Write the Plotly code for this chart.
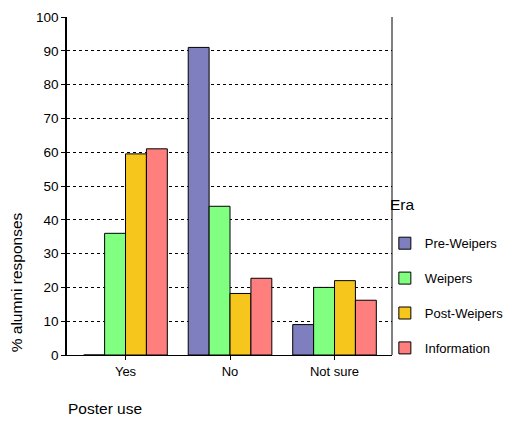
import plotly.graph_objects as go

categories = ["Yes", "No", "Not sure"]
series_names = ["Pre-Weipers", "Weipers", "Post-Weipers", "Information"]
pre_weipers = [0, 91, 9]
weipers = [36, 44, 20]
post_weipers = [59.5, 18.2, 22]
information = [61, 22.7, 16.2]
colors = ["#7f7fbf", "#80ff80", "#f7c61c", "#ff7f7f"]
y_ticks = [0, 10, 20, 30, 40, 50, 60, 70, 80, 90, 100]

fig = go.Figure()
for i, (name, vals) in enumerate(zip(series_names, [pre_weipers, weipers, post_weipers, information])):
    fig.add_trace(go.Bar(
        x=categories, y=vals, name=name,
        marker=dict(color=colors[i], line=dict(color="black", width=1)),
        legendgroup=name,
    ))

font_family = "Liberation Sans, Arial, sans-serif"
fig.update_layout(
    width=509, height=421,
    margin=dict(l=67, r=117, t=17, b=66, autoexpand=False),
    paper_bgcolor="white", plot_bgcolor="white",
    barmode="group", bargap=0.2, bargroupgap=0,
    font=dict(family=font_family, size=13, color="black"),
    showlegend=True,
    legend=dict(
        x=0.978, y=0.375, xanchor="left", yanchor="top",
        font=dict(size=13),
        tracegroupgap=15,
        bgcolor="rgba(0,0,0,0)",
        itemwidth=30,
    ),
    xaxis=dict(
        range=[-0.56, 2.55],
        showline=True, linecolor="black", linewidth=1,
        ticks="outside", ticklen=4, tickcolor="black",
        showgrid=False, mirror=False,
        tickfont=dict(size=13),
    ),
    yaxis=dict(
        range=[0, 100], tickvals=y_ticks,
        showline=True, linecolor="black", linewidth=1.5,
        ticks="outside", ticklen=4, tickcolor="black",
        showgrid=True, gridcolor="black", gridwidth=1, griddash="dot",
        zeroline=False, tickfont=dict(size=13.5),
    ),
    annotations=[
        dict(text="Poster use", xref="paper", yref="paper", x=0.117, y=-0.157,
             xanchor="center", yanchor="middle", showarrow=False, font=dict(size=15.5)),
        dict(text="% alumni responses", xref="paper", yref="paper", x=-0.157, y=0.215,
             xanchor="center", yanchor="middle", textangle=-90, showarrow=False,
             font=dict(size=15.5)),
        dict(text="Era", xref="paper", yref="paper", x=0.988, y=0.444,
             xanchor="left", yanchor="middle", showarrow=False, font=dict(size=15.5)),
    ],
    shapes=[dict(type="line", xref="paper", yref="paper", x0=1, x1=1, y0=0, y1=1,
                 line=dict(color="black", width=1))],
)

fig.write_html("out.html", config={"displayModeBar": False},
               post_script="document.body.style.margin='0';")
